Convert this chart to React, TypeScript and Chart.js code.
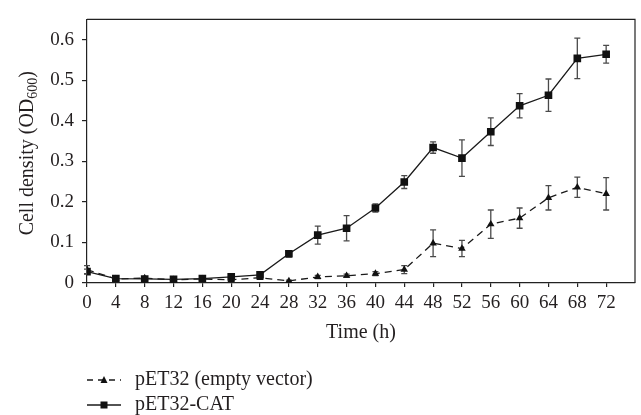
import React, { useEffect, useRef } from "react";
import { Chart, registerables } from "chart.js";

Chart.register(...registerables);

const times = [0, 4, 8, 12, 16, 20, 24, 28, 32, 36, 40, 44, 48, 52, 56, 60, 64, 68, 72];
const emptyLabel = "pET32 (empty vector)";
const catLabel = "pET32-CAT";
const emptyMean = [0.033, 0.01, 0.012, 0.008, 0.01, 0.008, 0.013, 0.005, 0.015, 0.018, 0.023, 0.033, 0.098, 0.085, 0.145, 0.16, 0.21, 0.236, 0.22];
const emptyErr = [0.01, 0.003, 0.003, 0.002, 0.003, 0.003, 0.003, 0.002, 0.004, 0.004, 0.005, 0.01, 0.033, 0.02, 0.035, 0.025, 0.03, 0.025, 0.04];
const catMean = [0.028, 0.011, 0.01, 0.009, 0.011, 0.015, 0.02, 0.072, 0.118, 0.135, 0.185, 0.249, 0.334, 0.308, 0.373, 0.437, 0.463, 0.554, 0.564];
const catErr = [0.006, 0.003, 0.003, 0.002, 0.003, 0.006, 0.005, 0.008, 0.022, 0.031, 0.01, 0.016, 0.014, 0.045, 0.034, 0.03, 0.04, 0.05, 0.022];
const yTickValues = [0, 0.1, 0.2, 0.3, 0.4, 0.5, 0.6];
const xTitle = "Time (h)";
const yTitleParts = ["Cell density (OD", "600", ")"];

const FONT = "'Liberation Serif', 'DejaVu Serif', serif";
const TEXT = "#231f20";
const LINE = "#1a1a1a";

const errArrays = [emptyErr, catErr];

const customPlugin = {
  id: "customDraw",
  beforeDatasetsDraw(chart: any) {
    const { ctx } = chart;
    const x = chart.scales.x;
    const y = chart.scales.y;
    ctx.save();
    ctx.strokeStyle = "#4a4a4a";
    ctx.lineWidth = 1.3;
    chart.data.datasets.forEach((ds: any, i: number) => {
      const errs = errArrays[i];
      ds.data.forEach((p: any, j: number) => {
        const e = errs[j];
        const px = x.getPixelForValue(p.x);
        const top = y.getPixelForValue(p.y + e);
        const bot = y.getPixelForValue(Math.max(0, p.y - e));
        ctx.beginPath();
        ctx.moveTo(px, top);
        ctx.lineTo(px, bot);
        ctx.moveTo(px - 3, top);
        ctx.lineTo(px + 3, top);
        ctx.moveTo(px - 3, bot);
        ctx.lineTo(px + 3, bot);
        ctx.stroke();
      });
    });
    ctx.restore();
  },
  afterDraw(chart: any) {
    const { ctx, chartArea } = chart;
    ctx.save();
    // frame
    ctx.strokeStyle = "#222";
    ctx.lineWidth = 1.2;
    ctx.beginPath();
    ctx.moveTo(chartArea.left, chartArea.top);
    ctx.lineTo(chartArea.right, chartArea.top);
    ctx.lineTo(chartArea.right, chartArea.bottom);
    ctx.stroke();

    // x title
    ctx.fillStyle = TEXT;
    ctx.font = `20px ${FONT}`;
    ctx.textAlign = "center";
    ctx.textBaseline = "middle";
    ctx.fillText(xTitle, (chartArea.left + chartArea.right) / 2, 333);

    // y title with subscript
    ctx.save();
    ctx.translate(26, (chartArea.top + chartArea.bottom) / 2 + 2);
    ctx.rotate(-Math.PI / 2);
    ctx.textAlign = "left";
    ctx.textBaseline = "alphabetic";
    const big = `20px ${FONT}`;
    const small = `14px ${FONT}`;
    ctx.font = big;
    const w1 = ctx.measureText(yTitleParts[0]).width;
    const w3 = ctx.measureText(yTitleParts[2]).width;
    ctx.font = small;
    const w2 = ctx.measureText(yTitleParts[1]).width;
    let sx = -(w1 + w2 + w3) / 2;
    const base = 7;
    ctx.font = big;
    ctx.fillText(yTitleParts[0], sx, base);
    sx += w1;
    ctx.font = small;
    ctx.fillText(yTitleParts[1], sx, base + 4);
    sx += w2;
    ctx.font = big;
    ctx.fillText(yTitleParts[2], sx, base);
    ctx.restore();

    // legend
    const rows = [380, 405];
    chart.data.datasets.forEach((ds: any, i: number) => {
      const ry = rows[i];
      ctx.strokeStyle = LINE;
      ctx.lineWidth = 1.3;
      ctx.setLineDash(i === 0 ? [6, 5] : []);
      ctx.beginPath();
      ctx.moveTo(87, ry);
      ctx.lineTo(121, ry);
      ctx.stroke();
      ctx.setLineDash([]);
      ctx.fillStyle = "#111";
      const mx = 104;
      if (i === 0) {
        ctx.beginPath();
        ctx.moveTo(mx, ry - 4);
        ctx.lineTo(mx + 3.5, ry + 3);
        ctx.lineTo(mx - 3.5, ry + 3);
        ctx.closePath();
        ctx.fill();
      } else {
        ctx.fillRect(mx - 3.5, ry - 3.5, 7, 7);
      }
      ctx.fillStyle = TEXT;
      ctx.font = `20px ${FONT}`;
      ctx.textAlign = "left";
      ctx.textBaseline = "middle";
      ctx.fillText(ds.label, 135, ry);
    });
    ctx.restore();
  },
};

export default function App() {
  const ref = useRef<HTMLCanvasElement>(null);
  useEffect(() => {
    if (!ref.current) return;
    const chart = new Chart(ref.current, {
      type: "line",
      data: {
        datasets: [
          {
            label: emptyLabel,
            data: times.map((t, i) => ({ x: t, y: emptyMean[i] })),
            borderColor: LINE,
            borderWidth: 1.3,
            borderDash: [7, 5],
            pointStyle: "triangle",
            pointRadius: 4.3,
            pointBackgroundColor: "#111",
            pointBorderColor: "#111",
            pointBorderWidth: 0,
            fill: false,
            tension: 0,
          },
          {
            label: catLabel,
            data: times.map((t, i) => ({ x: t, y: catMean[i] })),
            borderColor: LINE,
            borderWidth: 1.3,
            pointStyle: "rect",
            pointRadius: 5.4,
            pointBackgroundColor: "#111",
            pointBorderColor: "#111",
            pointBorderWidth: 0,
            fill: false,
            tension: 0,
          },
        ],
      },
      options: {
        animation: false,
        responsive: false,
        layout: { padding: { top: 12, right: 6, left: 0, bottom: 0 } },
        plugins: {
          legend: { display: false },
          tooltip: { enabled: false },
        },
        scales: {
          x: {
            type: "linear",
            min: 0,
            max: 76,
            afterFit: (s: any) => {
              s.height = 132;
            },
            afterBuildTicks: (s: any) => {
              s.ticks = times.map((v) => ({ value: v }));
            },
            ticks: {
              stepSize: 4,
              includeBounds: false,
              maxRotation: 0,
              autoSkip: false,
              padding: 5,
              color: TEXT,
              font: { family: FONT, size: 19 },
            },
            grid: {
              display: true,
              drawOnChartArea: false,
              drawTicks: true,
              tickLength: 4,
              color: "#222",
              lineWidth: 1.2,
            },
            border: { display: true, color: "#222", width: 1.2 },
          },
          y: {
            type: "linear",
            min: 0,
            max: 0.65,
            afterFit: (s: any) => {
              s.width = 87;
            },
            afterBuildTicks: (s: any) => {
              s.ticks = yTickValues.map((v) => ({ value: v }));
            },
            ticks: {
              includeBounds: false,
              padding: 8,
              color: TEXT,
              font: { family: FONT, size: 19 },
              callback: (v: any) => (v === 0 ? "0" : Number(v).toFixed(1)),
            },
            grid: {
              display: true,
              drawOnChartArea: false,
              drawTicks: true,
              tickLength: 5,
              color: "#222",
              lineWidth: 1.2,
            },
            border: { display: true, color: "#222", width: 1.2 },
          },
        },
      },
      plugins: [customPlugin],
    } as any);
    return () => chart.destroy();
  }, []);
  return (
    <div style={{ position: "fixed", left: 0, top: 0, width: 641, height: 415, background: "#fff" }}>
      <canvas ref={ref} width={641} height={415} style={{ display: "block" }} />
    </div>
  );
}
